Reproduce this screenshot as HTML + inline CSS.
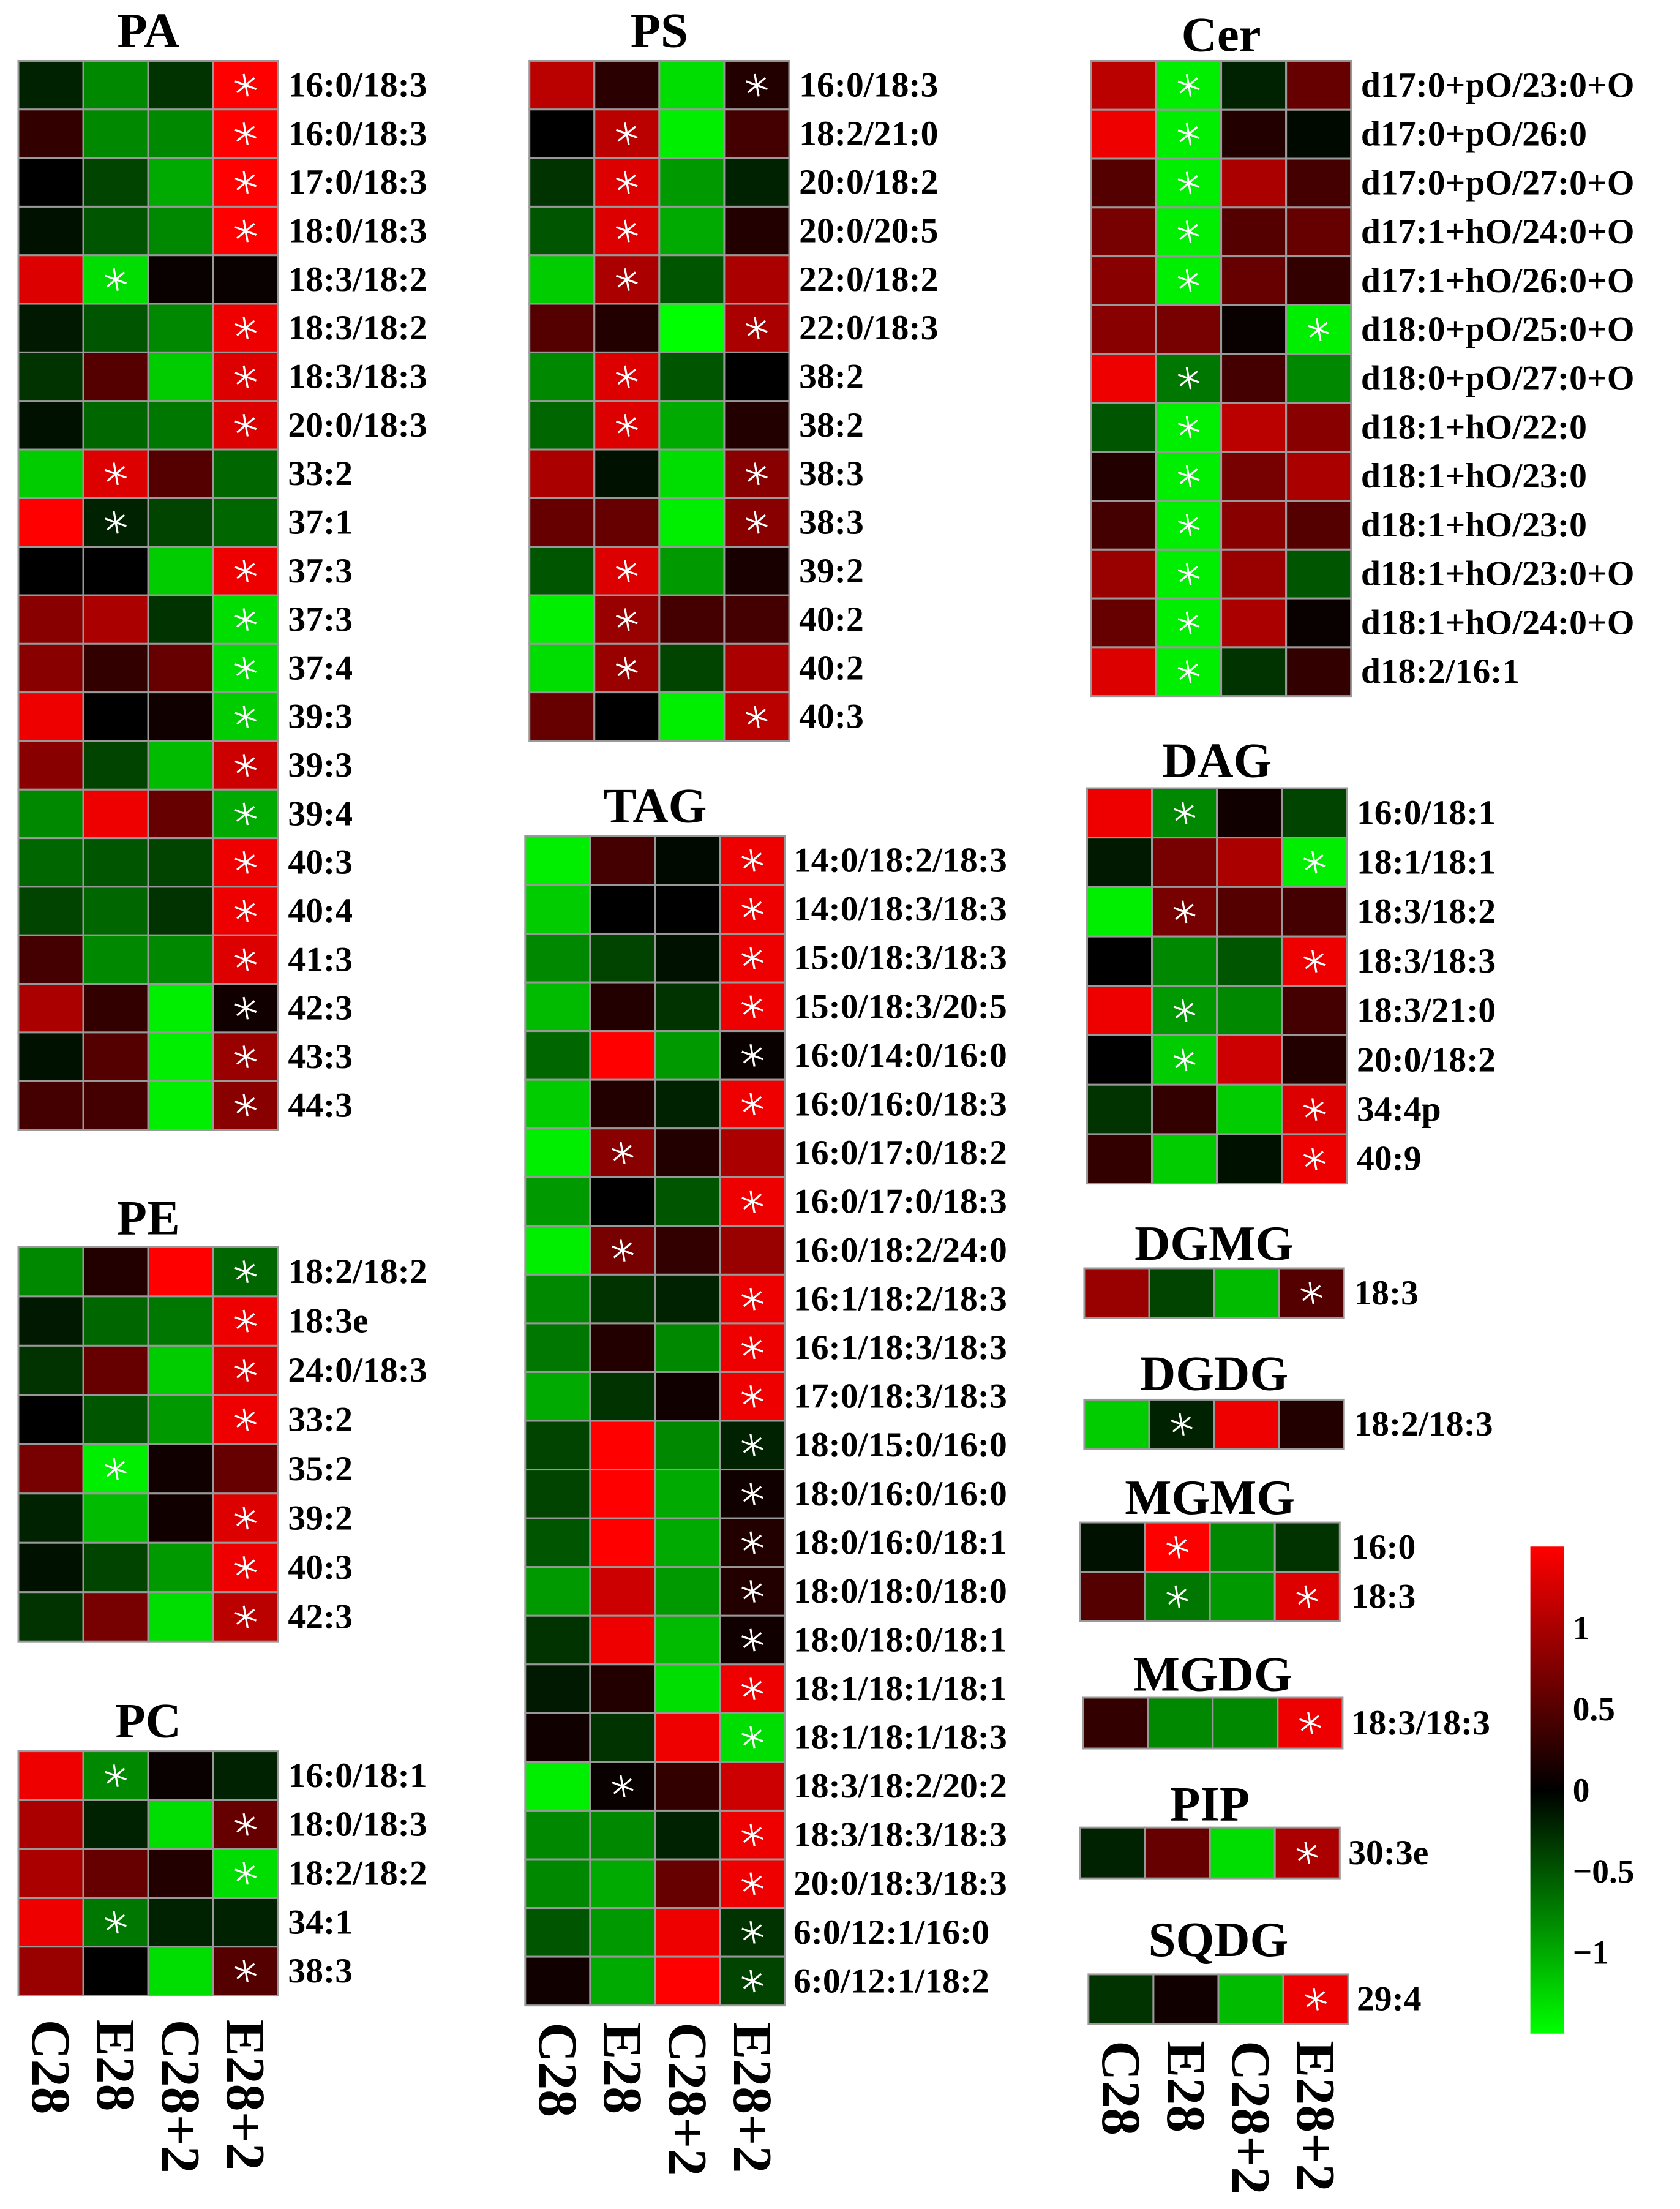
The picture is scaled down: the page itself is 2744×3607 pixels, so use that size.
<!DOCTYPE html>
<html><head><meta charset="utf-8"><style>
html,body{margin:0;padding:0;background:#fff}
svg{display:block}
text{font-family:"Liberation Serif",serif;font-weight:bold;fill:#000}
</style></head><body>
<svg id="fig" width="2744" height="3607" viewBox="0 0 1190 1564" xmlns="http://www.w3.org/2000/svg">
<defs><linearGradient id="cbg" x1="0" y1="0" x2="0" y2="1"><stop offset="0" stop-color="#ff0000"/><stop offset="0.5" stop-color="#000000"/><stop offset="1" stop-color="#00ff00"/></linearGradient></defs>
</svg>
<script>
const columns=["C28","E28","C28+2","E28+2"];
const paLabels=["16:0/18:3","16:0/18:3","17:0/18:3","18:0/18:3","18:3/18:2","18:3/18:2","18:3/18:3","20:0/18:3","33:2","37:1","37:3","37:3","37:4","39:3","39:3","39:4","40:3","40:4","41:3","42:3","43:3","44:3"];
const paValues=[[-0.2,-0.8,-0.3,1.5],[0.3,-0.8,-0.8,1.5],[0,-0.4,-1.0,1.5],[-0.1,-0.5,-0.8,1.5],[1.3,-1.3,0.05,0.05],[-0.15,-0.5,-0.8,1.4],[-0.3,0.5,-1.2,1.3],[-0.1,-0.6,-0.7,1.3],[-1.2,1.3,0.5,-0.6],[1.5,-0.2,-0.4,-0.6],[0,0,-1.2,1.4],[0.8,1.0,-0.3,-1.3],[0.8,0.3,0.6,-1.3],[1.4,0,0.1,-1.2],[0.8,-0.4,-1.1,1.2],[-0.8,1.4,0.6,-1.0],[-0.6,-0.5,-0.4,1.4],[-0.4,-0.6,-0.3,1.4],[0.4,-0.8,-0.8,1.3],[1.0,0.3,-1.4,0.1],[-0.1,0.5,-1.4,0.9],[0.4,0.4,-1.4,0.8]];
const paStars=[[3],[3],[3],[3],[1],[3],[3],[3],[1],[1],[3],[3],[3],[3],[3],[3],[3],[3],[3],[3],[3],[3]];
const peLabels=["18:2/18:2","18:3e","24:0/18:3","33:2","35:2","39:2","40:3","42:3"];
const peValues=[[-0.8,0.2,1.5,-0.6],[-0.15,-0.6,-0.7,1.4],[-0.3,0.6,-1.2,1.3],[0,-0.5,-0.9,1.4],[0.7,-1.4,0.1,0.6],[-0.2,-1.1,0.1,1.3],[-0.1,-0.4,-0.9,1.4],[-0.3,0.7,-1.3,1.1]];
const peStars=[[3],[3],[3],[3],[1],[3],[3],[3]];
const pcLabels=["16:0/18:1","18:0/18:3","18:2/18:2","34:1","38:3"];
const pcValues=[[1.4,-0.8,0.05,-0.2],[1.0,-0.2,-1.3,0.6],[1.0,0.6,0.2,-1.3],[1.4,-0.7,-0.2,-0.2],[0.9,0,-1.3,0.5]];
const pcStars=[[1],[3],[3],[1],[3]];
const psLabels=["16:0/18:3","18:2/21:0","20:0/18:2","20:0/20:5","22:0/18:2","22:0/18:3","38:2","38:2","38:3","38:3","39:2","40:2","40:2","40:3"];
const psValues=[[1.1,0.25,-1.3,0.2],[0,1.1,-1.4,0.4],[-0.3,1.3,-0.9,-0.2],[-0.5,1.3,-1.0,0.2],[-1.2,1.0,-0.5,1.0],[0.5,0.2,-1.5,1.0],[-0.8,1.3,-0.5,0],[-0.6,1.3,-1.0,0.2],[1.0,-0.1,-1.3,0.8],[0.6,0.6,-1.4,0.8],[-0.5,1.3,-0.9,0.15],[-1.4,0.9,0.4,0.4],[-1.3,0.9,-0.4,1.0],[0.6,0,-1.4,1.1]];
const psStars=[[3],[1],[1],[1],[1],[3],[1],[1],[3],[3],[1],[1],[1],[3]];
const tagLabels=["14:0/18:2/18:3","14:0/18:3/18:3","15:0/18:3/18:3","15:0/18:3/20:5","16:0/14:0/16:0","16:0/16:0/18:3","16:0/17:0/18:2","16:0/17:0/18:3","16:0/18:2/24:0","16:1/18:2/18:3","16:1/18:3/18:3","17:0/18:3/18:3","18:0/15:0/16:0","18:0/16:0/16:0","18:0/16:0/18:1","18:0/18:0/18:0","18:0/18:0/18:1","18:1/18:1/18:1","18:1/18:1/18:3","18:3/18:2/20:2","18:3/18:3/18:3","20:0/18:3/18:3","6:0/12:1/16:0","6:0/12:1/18:2"];
const tagValues=[[-1.4,0.4,-0.05,1.4],[-1.2,0,0,1.4],[-0.8,-0.4,-0.1,1.4],[-1.1,0.2,-0.3,1.4],[-0.6,1.5,-0.9,0.05],[-1.2,0.2,-0.2,1.4],[-1.4,0.8,0.2,1.0],[-0.9,0,-0.5,1.4],[-1.4,0.7,0.3,0.9],[-0.8,-0.3,-0.2,1.4],[-0.7,0.2,-0.8,1.4],[-1.0,-0.3,0.1,1.4],[-0.4,1.5,-0.8,-0.2],[-0.4,1.5,-1.0,0.1],[-0.5,1.5,-1.0,0.2],[-0.9,1.2,-0.9,0.2],[-0.3,1.4,-1.1,0.1],[-0.15,0.2,-1.3,1.4],[0.1,-0.3,1.4,-1.3],[-1.4,0.05,0.3,1.2],[-0.8,-0.8,-0.2,1.4],[-0.8,-1.0,0.6,1.4],[-0.5,-0.9,1.4,-0.3],[0.1,-1.0,1.5,-0.4]];
const tagStars=[[3],[3],[3],[3],[3],[3],[1],[3],[1],[3],[3],[3],[3],[3],[3],[3],[3],[3],[3],[1],[3],[3],[3],[3]];
const cerLabels=["d17:0+pO/23:0+O","d17:0+pO/26:0","d17:0+pO/27:0+O","d17:1+hO/24:0+O","d17:1+hO/26:0+O","d18:0+pO/25:0+O","d18:0+pO/27:0+O","d18:1+hO/22:0","d18:1+hO/23:0","d18:1+hO/23:0","d18:1+hO/23:0+O","d18:1+hO/24:0+O","d18:2/16:1"];
const cerValues=[[1.1,-1.4,-0.2,0.6],[1.4,-1.4,0.2,-0.05],[0.5,-1.4,1.0,0.4],[0.7,-1.4,0.5,0.6],[0.8,-1.4,0.6,0.3],[0.8,0.7,0.05,-1.4],[1.4,-0.7,0.4,-0.8],[-0.5,-1.4,1.1,0.8],[0.2,-1.4,0.7,1.0],[0.4,-1.4,0.8,0.5],[0.9,-1.4,0.9,-0.5],[0.6,-1.4,1.0,0.05],[1.3,-1.4,-0.3,0.3]];
const cerStars=[[1],[1],[1],[1],[1],[3],[1],[1],[1],[1],[1],[1],[1]];
const dagLabels=["16:0/18:1","18:1/18:1","18:3/18:2","18:3/18:3","18:3/21:0","20:0/18:2","34:4p","40:9"];
const dagValues=[[1.4,-0.8,0.1,-0.4],[-0.15,0.7,1.0,-1.4],[-1.4,0.7,0.5,0.4],[0,-0.8,-0.5,1.4],[1.4,-0.9,-0.8,0.4],[0,-1.2,1.2,0.2],[-0.3,0.3,-1.2,1.3],[0.3,-1.2,-0.1,1.4]];
const dagStars=[[1],[3],[1],[3],[1],[1],[3],[3]];
const dgmgLabels=["18:3"]; const dgmgValues=[[0.9,-0.4,-1.1,0.5]]; const dgmgStars=[[3]];
const dgdgLabels=["18:2/18:3"]; const dgdgValues=[[-1.2,-0.2,1.4,0.2]]; const dgdgStars=[[1]];
const mgmgLabels=["16:0","18:3"]; const mgmgValues=[[-0.1,1.5,-0.8,-0.3],[0.5,-0.7,-0.9,1.3]]; const mgmgStars=[[1],[1,3]];
const mgdgLabels=["18:3/18:3"]; const mgdgValues=[[0.3,-0.8,-0.8,1.4]]; const mgdgStars=[[3]];
const pipLabels=["30:3e"]; const pipValues=[[-0.2,0.6,-1.3,1.0]]; const pipStars=[[3]];
const sqdgLabels=["29:4"]; const sqdgValues=[[-0.3,0.1,-1.1,1.4]]; const sqdgStars=[[3]];
const cbTicks=[1,0.5,0,-0.5,-1];
const cbTickLabels=["1","0.5","0","\u22120.5","\u22121"];

const NS="http://www.w3.org/2000/svg";
const svg=document.getElementById('fig');
function mk(tag,attrs,parent){const e=document.createElementNS(NS,tag);for(const k in attrs)e.setAttribute(k,attrs[k]);(parent||svg).appendChild(e);return e;}
function color(v){const t=Math.min(1,Math.abs(v)/1.5);const c=Math.round(255*t);return v>=0?`rgb(${c},0,0)`:`rgb(0,${c},0)`;}
function panel(key,title,labels,values,stars,x,y,rh,titleY,labelX){
  const g=mk('g',{});
  
  
  const cw=46;
  const t=mk('text',{x:x+92,y:titleY,'text-anchor':'middle','font-size':35},g);
  t.textContent=title;
  
  
  values.forEach((row,r)=>{
    row.forEach((v,c)=>{
      const rc=mk('rect',{x:x+c*cw,y:y+r*rh,width:cw,height:rh,fill:color(v),stroke:'#999','stroke-width':1.3},g);
      
      
    });
    (stars[r]||[]).forEach(c=>{
      const cx=x+c*cw+cw/2, cy=y+r*rh+rh/2, L=8;
      const sg=mk('g',{stroke:'#fff','stroke-width':1.4},g);
      
      
      [80,20,-40].forEach(a=>{const rad=a*Math.PI/180;mk('line',{x1:cx-L*Math.cos(rad),y1:cy-L*Math.sin(rad),x2:cx+L*Math.cos(rad),y2:cy+L*Math.sin(rad)},sg);});
    });
    const lt=mk('text',{x:labelX,y:y+r*rh+rh/2+8,'font-size':25},g);
    lt.textContent=labels[r];
    
    
  });
}
panel('pa','PA',paLabels,paValues,paStars,13,43,34.4,33,204);
panel('pe','PE',peLabels,peValues,peStars,13,883,34.9,874,204);
panel('pc','PC',pcLabels,pcValues,pcStars,13,1240,34.6,1230,204);
panel('ps','PS',psLabels,psValues,psStars,375,43,34.4,33,566);
panel('tag','TAG',tagLabels,tagValues,tagStars,372,592,34.5,582,562);
panel('cer','Cer',cerLabels,cerValues,cerStars,773,43,34.6,36,964);
panel('dag','DAG',dagLabels,dagValues,dagStars,770,558,35,550,961);
panel('dgmg','DGMG',dgmgLabels,dgmgValues,dgmgStars,768,898,35,892,959);
panel('dgdg','DGDG',dgdgLabels,dgdgValues,dgdgStars,768,991,35,984,959);
panel('mgmg','MGMG',mgmgLabels,mgmgValues,mgmgStars,765,1078,35,1072,957);
panel('mgdg','MGDG',mgdgLabels,mgdgValues,mgdgStars,767,1202,36,1197,957);
panel('pip','PIP',pipLabels,pipValues,pipStars,765,1294,36,1289,955);
panel('sqdg','SQDG',sqdgLabels,sqdgValues,sqdgStars,771,1398,35,1385,961);
function colLabels(key,x,top){
  columns.forEach((c,i)=>{
    const cx=x+i*46+23;
    const t=mk('text',{transform:`translate(${cx-13},${top}) rotate(90)`,'font-size':39});
    t.textContent=c;
    
    
  });
}
colLabels('left',13,1430);
colLabels('middle',372,1432);
colLabels('right',771,1445);
const cbTop=1095,cbBot=1440,cbX=1084,cbW=24;
function cbY(v){return cbTop+(1.5-v)/3*(cbBot-cbTop);}
const cb=mk('rect',{x:cbX,y:cbTop,width:cbW,height:cbBot-cbTop,fill:'url(#cbg)'});


cbTicks.forEach((v,i)=>{
  const t=mk('text',{x:cbX+30,y:cbY(v)+8,'font-size':24});
  t.textContent=cbTickLabels[i];
  
  
});
</script>
</body></html>
